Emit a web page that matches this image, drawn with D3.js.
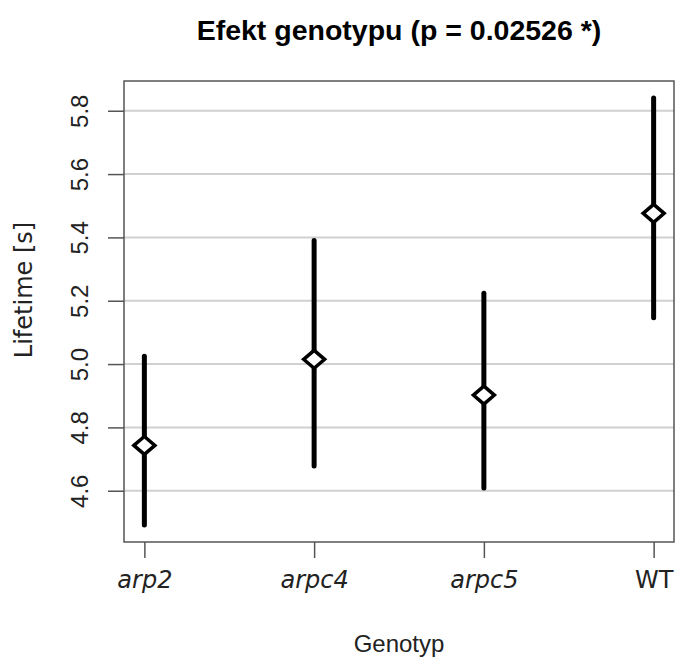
<!DOCTYPE html>
<meta charset="utf-8">
<style>
body { margin: 0; background: #fff; }
text { fill: #222; }
.grid line { stroke: #d0d0d0; stroke-width: 2px; }
.bar { stroke: #000; stroke-width: 5px; stroke-linecap: round; }
.dot { fill: #fff; stroke: #000; stroke-width: 3.5px; stroke-linejoin: miter; }
</style>
<body>
<script src="https://d3js.org/d3.v7.min.js"></script>
<script>

// data
var genotypes = ["arp2", "arpc4", "arpc5", "WT"];
var italic = [true, true, true, false];
var means = [4.743, 5.015, 4.902, 5.476];
var lower = [4.492, 4.678, 4.609, 5.146];
var upper = [5.025, 5.390, 5.224, 5.840];
var yTicks = [4.6, 4.8, 5.0, 5.2, 5.4, 5.6, 5.8];

var sans = "Liberation Sans, Arial, sans-serif",
    dejavu = "DejaVu Sans, sans-serif";

var W = 675, H = 661;
var margin = {top: 81, right: 1, bottom: 119, left: 124},
    width = W - margin.left - margin.right,
    height = H - margin.top - margin.bottom;

var svg = d3.select("body").append("svg")
    .attr("width", W)
    .attr("height", H);

var g = svg.append("g")
    .attr("transform", "translate(" + margin.left + "," + margin.top + ")");

// R style 4% padding on both axes
var ymin = d3.min(lower), ymax = d3.max(upper), pad = (ymax - ymin) * 0.04;
var x = d3.scaleLinear().domain([1 - 0.12, 4 + 0.12]).range([0, width]);
var y = d3.scaleLinear().domain([ymin - pad, ymax + pad]).range([height, 0]);

// grid
g.append("g").attr("class", "grid")
  .selectAll("line").data(yTicks).enter().append("line")
    .attr("x1", 0).attr("x2", width)
    .attr("y1", function(d) { return y(d); })
    .attr("y2", function(d) { return y(d); });

// y axis
var yAxis = g.append("g")
    .call(d3.axisLeft(y).tickValues(yTicks).tickSize(16).tickFormat(d3.format(".1f")));
yAxis.select(".domain").remove();
yAxis.selectAll(".tick line").attr("stroke", "#555").attr("stroke-width", 1.5);
yAxis.selectAll(".tick text")
    .style("font-size", "24px")
    .style("font-family", sans)
    .attr("fill", "#222")
    .attr("text-anchor", "middle")
    .attr("transform", "rotate(-90)")
    .attr("x", 0)
    .attr("y", -36)
    .attr("dy", 0);

// x axis
var xAxis = g.append("g")
    .attr("transform", "translate(0," + height + ")")
    .call(d3.axisBottom(x).tickValues([1, 2, 3, 4]).tickSize(16)
      .tickFormat(function(d) { return genotypes[d - 1]; }));
xAxis.select(".domain").remove();
xAxis.selectAll(".tick line").attr("stroke", "#555").attr("stroke-width", 1.5);
xAxis.selectAll(".tick text")
    .style("font-size", "24px")
    .style("font-family", dejavu)
    .style("font-style", function(d) { return italic[d - 1] ? "italic" : "normal"; })
    .attr("fill", "#222")
    .attr("y", 46)
    .attr("dy", 0);

// box
g.append("rect")
    .attr("x", 0).attr("y", 0)
    .attr("width", width).attr("height", height)
    .attr("fill", "none")
    .attr("stroke", "#555")
    .attr("stroke-width", 1.5);

// error bars
g.selectAll(".bar").data(genotypes).enter().append("line")
    .attr("class", "bar")
    .attr("x1", function(d, i) { return x(i + 1); })
    .attr("x2", function(d, i) { return x(i + 1); })
    .attr("y1", function(d, i) { return y(lower[i]); })
    .attr("y2", function(d, i) { return y(upper[i]); });

// diamonds at the means
var dw = 10.5, dh = 9;
g.selectAll(".dot").data(genotypes).enter().append("path")
    .attr("class", "dot")
    .attr("d", function(d, i) {
      var cx = x(i + 1), cy = y(means[i]);
      return "M" + (cx - dw) + "," + cy + "L" + cx + "," + (cy - dh) +
             "L" + (cx + dw) + "," + cy + "L" + cx + "," + (cy + dh) + "Z";
    });

// titles
svg.append("text")
    .attr("x", margin.left + width / 2)
    .attr("y", 40)
    .attr("text-anchor", "middle")
    .style("font-family", sans)
    .style("font-size", "28.5px")
    .style("font-weight", "bold")
    .style("fill", "#000")
    .text("Efekt genotypu (p = 0.02526 *)");

svg.append("text")
    .attr("x", margin.left + width / 2)
    .attr("y", 652)
    .attr("text-anchor", "middle")
    .style("font-family", sans)
    .style("font-size", "24px")
    .text("Genotyp");

svg.append("text")
    .attr("transform", "translate(32,290) rotate(-90)")
    .attr("text-anchor", "middle")
    .style("font-family", dejavu)
    .style("font-size", "24px")
    .text("Lifetime [s]");

</script>
</body>
